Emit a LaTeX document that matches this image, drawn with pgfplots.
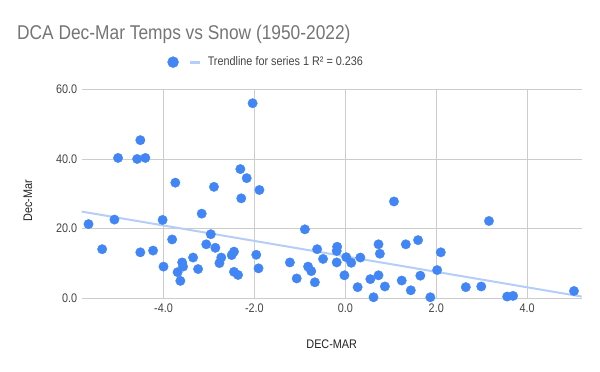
\documentclass[border=0pt]{standalone}
\usepackage{fontspec}
\setmainfont{Liberation Sans}
\newfontfamily\narrowfont[FakeStretch=0.87]{Liberation Sans}
\usepackage{pgfplots}
\pgfplotsset{compat=1.18}
\definecolor{ptblue}{HTML}{4285F4}
\definecolor{trend}{HTML}{B4CDF9}
\definecolor{gridc}{HTML}{CCCCCC}
\definecolor{ticktext}{HTML}{444444}
\definecolor{labeltext}{HTML}{222222}
\definecolor{titletext}{HTML}{757575}
\begin{document}
\begin{tikzpicture}[x=1bp,y=1bp]
\useasboundingbox (-81.7,-72.7) rectangle (518.3,298.3);
\node[anchor=base west, inner sep=0, text=titletext, font=\narrowfont\fontsize{20}{24}\selectfont] at (-64.7,259.3) {DCA Dec-Mar Temps vs Snow (1950-2022)};
\begin{axis}[
  at={(0,0)}, anchor=south west,
  scale only axis, width=500bp, height=209bp,
  xmin=-5.8, xmax=5.2, ymin=0, ymax=60,
  xtick={-4,-2,2,4}, ytick={20,40,60},
  extra x ticks={0}, extra y ticks={0},
  extra x tick style={grid style={black, line width=0.9bp}},
  extra y tick style={grid style={black, line width=0.9bp}},
  xticklabel={\pgfmathprintnumber[fixed,fixed zerofill,precision=1]{\tick}},
  yticklabel={\pgfmathprintnumber[fixed,fixed zerofill,precision=1]{\tick}},
  /pgf/number format/assume math mode=true,
  ticklabel style={text=ticktext, font=\narrowfont\fontsize{12.5}{14}\selectfont},
  xticklabel style={yshift=-2bp},
  yticklabel style={xshift=-1bp},
  grid=major, major grid style={gridc, line width=0.8bp},
  axis line style={draw=none}, tick style={draw=none},
  xlabel={DEC-MAR}, ylabel={Dec-Mar},
  label style={text=labeltext, font=\narrowfont\fontsize{12.5}{14}\selectfont},
  xlabel style={at={(axis description cs:0.5,-0.218)}, anchor=center},
  ylabel style={at={(axis description cs:-0.1074,0.466)}, anchor=center, rotate=0},
  legend style={draw=none, fill=none, at={(0.165,1.13)}, anchor=west,
    legend columns=2, font=\narrowfont\fontsize{12.5}{14}\selectfont, text=ticktext,
    /tikz/every even column/.append style={column sep=2bp},
    /tikz/every odd column/.append style={column sep=4bp}},
  legend cell align=left,
  clip=false,
]
\addplot[only marks, mark=*, mark size=4.7bp, mark options={draw=ptblue, fill=ptblue},
  legend image code/.code={\fill[ptblue] (0.3cm,0bp) circle (5.5bp);}] coordinates {
(-5.65,21.3) (-5.35,14.1) (-5.08,22.6) (-5.00,40.3) (-4.58,40.0) (-4.51,45.4)
(-4.40,40.3) (-4.51,13.2) (-4.23,13.7) (-4.02,22.5) (-4.00,9.1) (-3.81,16.9)
(-3.74,33.2) (-3.69,7.5) (-3.63,5.0) (-3.59,10.3) (-3.57,9.1) (-3.35,11.7)
(-3.24,8.4) (-3.16,24.3) (-3.06,15.5) (-2.96,18.4) (-2.89,32.0) (-2.86,14.5)
(-2.77,10.1) (-2.73,11.7) (-2.50,12.4) (-2.45,13.4) (-2.45,7.6) (-2.36,6.7)
(-2.31,37.1) (-2.29,28.7) (-2.17,34.5) (-2.04,56.0) (-1.96,12.5) (-1.91,8.6)
(-1.89,31.1) (-1.22,10.3) (-1.07,5.7) (-0.89,19.8) (-0.82,9.1) (-0.75,7.8)
(-0.67,4.6) (-0.62,14.1) (-0.49,11.3) (-0.19,10.3) (-0.19,13.6) (-0.18,14.8)
(-0.02,6.6) (0.02,11.8) (0.13,10.2) (0.27,3.2) (0.33,11.7) (0.55,5.5)
(0.62,0.3) (0.73,6.6) (0.73,15.5) (0.76,12.8) (0.87,3.4) (1.07,27.8)
(1.24,5.1) (1.33,15.5) (1.44,2.3) (1.60,16.7) (1.65,6.5) (1.87,0.3)
(2.02,8.1) (2.10,13.2) (2.65,3.2) (2.99,3.4) (3.16,22.2) (3.56,0.5)
(3.69,0.7) (5.03,2.1)
};
\addlegendentry{}
\addplot[trend, line width=2bp, no marks,
  legend image code/.code={\draw[trend, line width=3bp] (0bp,0bp) -- (10bp,0bp);}]
  coordinates {(-5.8,24.9) (5.2,0.5)};
\addlegendentry{Trendline for series 1 R² = 0.236}
\end{axis}
\end{tikzpicture}
\end{document}
